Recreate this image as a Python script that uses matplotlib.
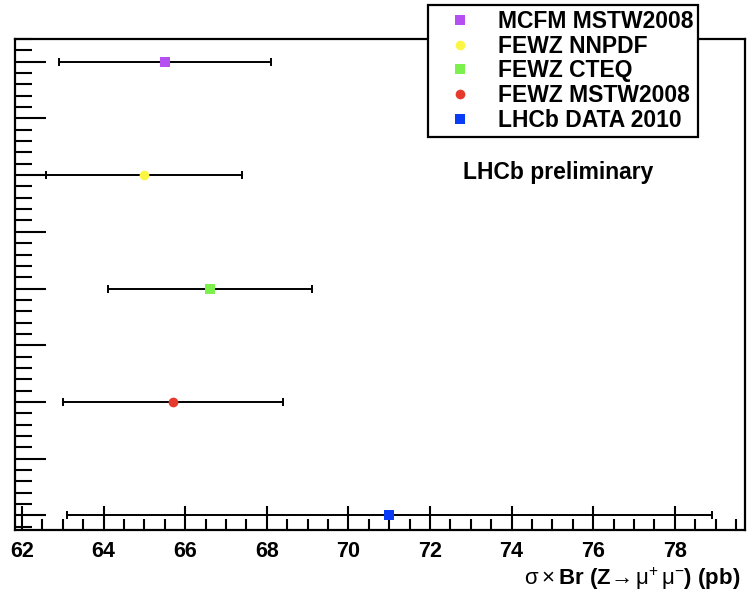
import matplotlib.pyplot as plt
from matplotlib.ticker import MultipleLocator

# values, bottom to top
labels = ['LHCb DATA 2010', 'FEWZ MSTW2008', 'FEWZ CTEQ', 'FEWZ NNPDF', 'MCFM MSTW2008']
xsec = [71.0, 65.7, 66.6, 65.0, 65.5]
err = [7.9, 2.7, 2.5, 2.4, 2.6]
colors = ['#0a3cf5', '#e53a2c', '#7cf04c', '#fbf645', '#b54ff2']
markers = ['s', 'o', 's', 'o', 's']
ypos = [0, 1, 2, 3, 4]

plt.rcParams['font.family'] = 'Liberation Sans'
plt.rcParams['mathtext.fontset'] = 'custom'
plt.rcParams['mathtext.rm'] = 'Liberation Sans'
plt.rcParams['mathtext.bf'] = 'Liberation Sans:bold'
plt.rcParams['mathtext.it'] = 'Liberation Sans:italic'

fig = plt.figure(figsize=(7.48, 5.91), dpi=100)
ax = fig.add_axes([0.02, 0.103, 0.976, 0.831])

handles = []
for y, x, e, c, m, lab in zip(ypos, xsec, err, colors, markers, labels):
    ax.errorbar(x, y, xerr=e, fmt='none', ecolor='black', elinewidth=1.4,
                capsize=2.8, capthick=1.4, zorder=2)
    h, = ax.plot(x, y, linestyle='none', marker=m, markersize=7.5 if m == 's' else 7,
                 color=c, markeredgewidth=0, zorder=3, label=lab)
    handles.append(h)

ax.set_xlim(61.83, 79.72)
ax.set_ylim(-0.13, 4.2)

ax.xaxis.set_major_locator(MultipleLocator(2))
ax.xaxis.set_minor_locator(MultipleLocator(0.5))
ax.yaxis.set_major_locator(MultipleLocator(0.5))
ax.yaxis.set_minor_locator(MultipleLocator(0.1))
ax.tick_params(axis='x', which='major', direction='in', length=17, width=1.5,
               labelsize=15.5, pad=8)
ax.tick_params(axis='x', which='minor', direction='in', length=8, width=1.5)
ax.tick_params(axis='y', which='major', direction='in', length=22, width=1.5, labelleft=False)
ax.tick_params(axis='y', which='minor', direction='in', length=12, width=1.5)
for lbl in ax.get_xticklabels():
    lbl.set_fontweight('bold')
for s in ax.spines.values():
    s.set_linewidth(1.6)

ax.text(0.994, -0.1,
        r'$\mathrm{σ}\times\mathbf{Br\ (Z→}\,\mathrm{μ}^{+}\,\mathrm{μ}^{-}\mathbf{)\ (pb)}$',
        transform=ax.transAxes, ha='right', va='center', fontsize=16)

ax.text(72.8, 3.02, 'LHCb preliminary', fontsize=16.5, fontweight='bold',
        ha='left', va='center')

leg = ax.legend(handles=handles[::-1], loc='upper left',
                bbox_to_anchor=(0.566, 1.069), frameon=True, fancybox=False,
                edgecolor='black', framealpha=1, borderpad=0.2, labelspacing=0.08,
                handlelength=2.35, handletextpad=0.5, borderaxespad=0,
                prop={'weight': 'bold', 'size': 16.5})
leg.get_frame().set_linewidth(1.6)
leg.set_zorder(5)

fig.savefig('out.png', dpi=100)
